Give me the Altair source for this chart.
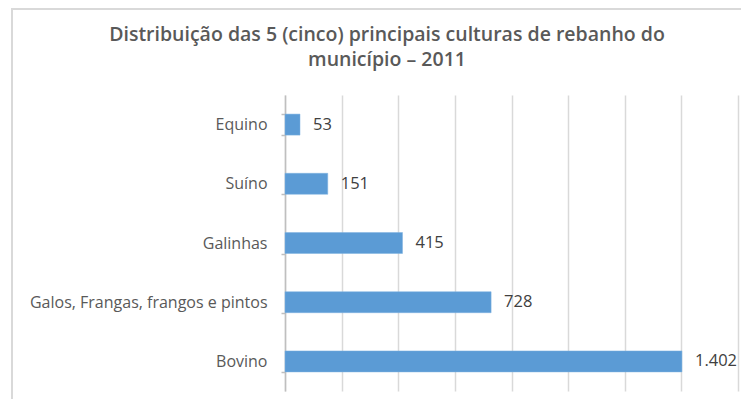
import altair as alt
import pandas as pd

categories = ["Equino", "Suíno", "Galinhas", "Galos, Frangas, frangos e pintos", "Bovino"]
values = [53, 151, 415, 728, 1402]
value_labels = ["53", "151", "415", "728", "1.402"]
grid_ticks = [0, 200, 400, 600, 800, 1000, 1200, 1400, 1600]

df = pd.DataFrame({"cat": categories, "val": values, "lab": value_labels})

FONT = "Open Sans"

y_enc = alt.Y(
    "cat:N",
    sort=categories,
    title=None,
    scale=alt.Scale(paddingInner=0.645, paddingOuter=0.3225),
    axis=alt.Axis(
        domainColor="#bfbfbf",
        domainWidth=1.5,
        tickColor="#bfbfbf",
        tickWidth=1.5,
        tickSize=4,
        tickBand="extent",
        labelPadding=14,
        labelLimit=0,
        labelFont=FONT,
        labelFontSize=16,
        labelColor="#595959",
        grid=False,
    ),
)

x_enc = alt.X(
    "val:Q",
    title=None,
    scale=alt.Scale(domain=[0, 1600], nice=False),
    axis=alt.Axis(
        values=grid_ticks,
        grid=True,
        gridColor="#d9d9d9",
        gridWidth=1.5,
        labels=False,
        ticks=False,
        domain=False,
    ),
)

bars = alt.Chart(df).mark_bar(color="#5b9bd5", stroke="#7fb2e0", strokeWidth=0.5).encode(
    x=x_enc, y=y_enc
)

text = alt.Chart(df).mark_text(
    align="left", baseline="middle", dx=13, font=FONT, fontSize=16.5, color="#404040"
).encode(x="val:Q", y=alt.Y("cat:N", sort=categories), text="lab:N")

border = alt.Chart(df).mark_rect(
    fill=None, stroke="#d9d9d9", strokeWidth=2
).encode(
    x=alt.value(-273), x2=alt.value(520), y=alt.value(-86), y2=alt.value(400)
)

chart = (
    alt.layer(border, bars, text)
    .properties(
        width=453,
        height=296,
        title=alt.TitleParams(
            text=["Distribuição das 5 (cinco) principais culturas de rebanho do", "município – 2011"],
            font=FONT,
            fontSize=19.5,
            fontWeight=600,
            color="#595959",
            anchor="middle",
            frame="group",
            dx=-124.5,
            offset=-62,
            lineHeight=25,
        ),
        autosize=alt.AutoSizeParams(type="none"),
        padding={"left": 277, "top": 87, "right": 3, "bottom": 8},
    )
    .configure_view(stroke=None)
)

chart.save("out.html", embed_options={"renderer": "svg", "actions": False})
